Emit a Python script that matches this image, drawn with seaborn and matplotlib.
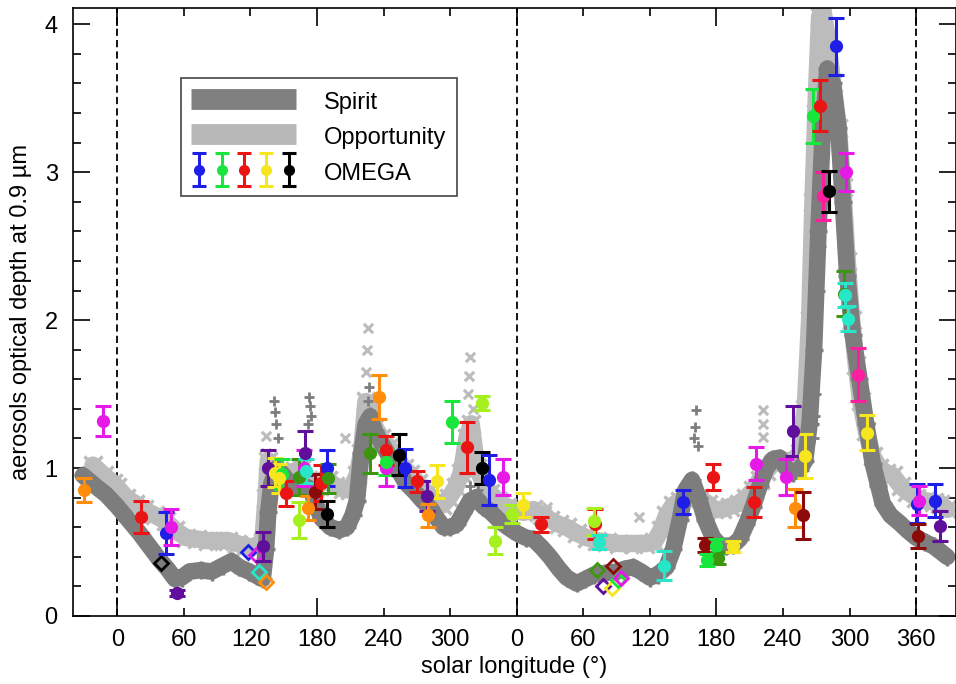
import numpy as np
import matplotlib
matplotlib.use('Agg')
import matplotlib.pyplot as plt
import seaborn as sns
from matplotlib.lines import Line2D
from matplotlib.legend_handler import HandlerTuple, HandlerErrorbar
from matplotlib.container import ErrorbarContainer
from matplotlib.ticker import MultipleLocator, FuncFormatter

# cumulative solar longitude (second Mars year shifted by +360)
spirit_ls = [-31, -20, -10, 0, 10, 20, 30, 38, 45, 52, 58, 65, 75, 85, 95, 103, 110, 119, 126, 131,
             134, 136, 139, 144, 150, 156, 162, 168, 174, 179, 184, 192, 200, 207, 212, 216, 220, 224,
             228, 232, 238, 245, 252, 260, 268, 275, 282, 288, 294, 300, 306, 312, 318, 323, 330, 337,
             345, 352, 360, 368, 375, 383, 390, 398, 405, 414, 422, 430, 440, 450, 458, 465, 472, 480,
             487, 495, 501, 507, 512, 518, 524, 530, 537, 543, 549, 555, 561, 567, 573, 579, 585, 591,
             597, 603, 609, 615, 620, 624, 628, 632, 636, 640, 645, 650, 654, 658, 663, 669, 675, 681,
             686, 690, 697, 705, 712, 720, 728, 736, 743, 748]
spirit_tau = [0.95, 0.88, 0.82, 0.74, 0.65, 0.56, 0.46, 0.38, 0.32, 0.25, 0.26, 0.30, 0.31, 0.30, 0.34,
              0.37, 0.33, 0.30, 0.27, 0.25, 0.45, 0.70, 0.90, 1.00, 0.95, 0.88, 0.87, 0.88, 0.86, 0.75,
              0.66, 0.60, 0.58, 0.60, 0.68, 0.78, 1.10, 1.30, 1.35, 1.25, 1.17, 1.08, 1.00, 0.90, 0.84,
              0.78, 0.73, 0.66, 0.60, 0.60, 0.62, 0.70, 0.78, 0.80, 0.74, 0.70, 0.64, 0.60, 0.56, 0.53,
              0.52, 0.46, 0.40, 0.32, 0.26, 0.22, 0.25, 0.28, 0.29, 0.30, 0.32, 0.33, 0.30, 0.26, 0.28,
              0.33, 0.45, 0.65, 0.85, 0.92, 0.80, 0.65, 0.53, 0.48, 0.47, 0.48, 0.52, 0.62, 0.74, 0.88,
              1.00, 1.06, 1.07, 1.00, 0.97, 0.99, 1.05, 1.30, 1.80, 2.60, 3.30, 3.70, 3.60, 3.30, 2.80,
              2.30, 1.90, 1.60, 1.30, 1.03, 0.88, 0.76, 0.68, 0.63, 0.58, 0.53, 0.50, 0.47, 0.43, 0.40]
spirit_spike_ls = [141, 142, 143, 145, 172, 173, 174, 175, 226, 227, 318, 325, 520, 521, 522, 523,
                   628, 629, 630, 631, 633, 634]
spirit_spike_tau = [1.45, 1.38, 1.30, 1.20, 1.30, 1.48, 1.42, 1.35, 1.45, 1.55, 0.88, 0.85, 1.20, 1.28,
                    1.39, 1.15, 1.20, 1.35, 1.50, 1.90, 2.20, 2.50]

opp_ls = [-22, -12, -4, 0, 8, 16, 24, 34, 44, 52, 62, 72, 82, 92, 100, 108, 116, 124, 131, 134, 136,
          140, 146, 152, 160, 166, 172, 178, 184, 190, 196, 203, 210, 216, 220, 224, 228, 232, 238, 245,
          252, 258, 264, 271, 279, 286, 293, 299, 305, 310, 315, 319, 324, 330, 336, 343, 351, 358, 366,
          375, 383, 390, 398, 405, 414, 423, 432, 441, 452, 465, 476, 484, 490, 495, 501, 507, 515, 525,
          532, 538, 545, 552, 560, 567, 573, 579, 585, 591, 597, 603, 609, 615, 620, 624, 627, 630, 633,
          636, 640, 645, 650, 654, 658, 662, 666, 670, 675, 681, 687, 693, 699, 706, 712, 720, 728, 736,
          742, 748]
opp_tau = [1.02, 0.95, 0.90, 0.87, 0.80, 0.76, 0.72, 0.68, 0.64, 0.58, 0.53, 0.52, 0.51, 0.51, 0.51,
           0.49, 0.47, 0.47, 0.50, 0.80, 1.05, 1.00, 0.98, 0.96, 0.98, 1.00, 0.92, 0.87, 0.90, 0.92, 0.88,
           0.86, 0.85, 0.95, 1.10, 1.45, 1.40, 1.28, 1.20, 1.14, 1.07, 1.00, 0.96, 0.90, 0.83, 0.78, 0.75,
           0.80, 0.87, 0.97, 1.20, 1.30, 1.00, 0.90, 0.83, 0.78, 0.74, 0.72, 0.70, 0.72, 0.68, 0.65, 0.62,
           0.60, 0.56, 0.53, 0.51, 0.50, 0.49, 0.49, 0.49, 0.50, 0.58, 0.68, 0.75, 0.78, 0.80, 0.80, 0.76,
           0.72, 0.72, 0.74, 0.76, 0.80, 0.85, 0.92, 0.98, 1.03, 1.05, 1.05, 1.05, 1.10, 1.40, 2.00, 2.80,
           3.50, 4.05, 4.10, 3.90, 3.60, 3.30, 2.90, 2.40, 2.00, 1.70, 1.45, 1.25, 1.08, 1.00, 0.97, 0.95,
           0.88, 0.84, 0.80, 0.78, 0.77, 0.76, 0.72]
opp_spike_ls = [134, 134, 205, 224, 225, 226, 316, 317, 318, 321, 387, 470, 582, 582, 582, 624, 625,
                628, 629, 631, 631]
opp_spike_tau = [1.10, 1.22, 1.20, 1.65, 1.80, 1.95, 1.50, 1.62, 1.75, 1.40, 0.74, 0.67, 1.21, 1.30,
                 1.39, 1.60, 1.75, 2.90, 3.05, 2.20, 3.84]

# OMEGA retrievals with error bars
omega_ls = [-30, -12.6, 21.4, 44, 48.5, 54, 131, 135.6, 141.7, 148, 146, 152, 164, 164, 169, 168, 170,
            171.5, 178.6, 184, 188.6, 189.5, 188.6, 228, 236, 242.5, 242, 242, 253.5, 259, 270, 279,
            280, 288, 302, 315, 329, 329, 335, 340, 348, 356, 365.6, 381.6, 431, 430, 434, 492.6,
            509.8, 537, 530, 539.6, 541, 531.5, 555, 574, 575.7, 603, 609, 620, 611, 618, 627, 633.5,
            648, 636, 641.5, 657, 655, 656, 659, 667.6, 675.6, 720.6, 722.8, 722, 737, 742]
omega_tau = [0.85, 1.32, 0.67, 0.56, 0.60, 0.155, 0.47, 1.00, 0.97, 0.96, 0.93, 0.83, 0.65, 0.94, 1.10,
             1.00, 0.98, 0.73, 0.84, 0.90, 1.00, 0.93, 0.69, 1.10, 1.48, 1.12, 1.00, 1.04, 1.09, 1.00,
             0.91, 0.81, 0.68, 0.91, 1.31, 1.14, 1.44, 1.00, 0.92, 0.51, 0.94, 0.69, 0.75, 0.62, 0.62,
             0.64, 0.50, 0.34, 0.77, 0.94, 0.48, 0.47, 0.39, 0.38, 0.47, 0.77, 1.03, 0.94, 1.25, 1.08,
             0.73, 0.68, 3.38, 3.45, 3.85, 2.84, 2.87, 3.00, 2.18, 2.17, 2.01, 1.63, 1.24, 0.76, 0.78,
             0.54, 0.78, 0.61]
omega_err = [0.08, 0.10, 0.11, 0.14, 0.12, 0.02, 0.10, 0.12, 0.10, 0.10, 0.10, 0.085, 0.12, 0.12, 0.15,
             0.12, 0.08, 0.08, 0.12, 0.12, 0.12, 0.10, 0.085, 0.13, 0.15, 0.10, 0.12, 0.09, 0.14, 0.13,
             0.07, 0.10, 0.08, 0.11, 0.14, 0.17, 0.05, 0.11, 0.17, 0.09, 0.12, 0.06, 0.08, 0.05, 0.10,
             0.09, 0.05, 0.10, 0.08, 0.09, 0.05, 0.05, 0.04, 0.04, 0.04, 0.10, 0.11, 0.12, 0.17, 0.15,
             0.13, 0.16, 0.18, 0.17, 0.19, 0.16, 0.14, 0.13, 0.15, 0.08, 0.085, 0.18, 0.12, 0.13, 0.10,
             0.08, 0.11, 0.10]
omega_group = ['orange', 'magenta', 'red', 'blue', 'magenta', 'purple', 'purple', 'purple', 'yellow',
               'green', 'yellow', 'red', 'lime', 'darkgreen', 'purple', 'magenta', 'cyan', 'orange',
               'maroon', 'red', 'blue', 'darkgreen', 'black', 'darkgreen', 'orange', 'red', 'magenta',
               'green', 'black', 'blue', 'red', 'purple', 'orange', 'yellow', 'green', 'red', 'lime',
               'black', 'blue', 'lime', 'magenta', 'lime', 'yellow', 'red', 'red', 'lime', 'cyan', 'cyan',
               'blue', 'red', 'maroon', 'green', 'darkgreen', 'green', 'yellow', 'red', 'magenta',
               'magenta', 'purple', 'yellow', 'orange', 'maroon', 'green', 'red', 'blue', 'pink', 'black',
               'magenta', 'darkgreen', 'cyan', 'cyan', 'pink', 'yellow', 'blue', 'magenta', 'maroon',
               'blue', 'purple']

# OMEGA points without error bars (open diamonds)
diamond_ls = [39, 117.6, 125, 128, 134, 432, 447, 438, 445.5, 451, 454]
diamond_tau = [0.36, 0.43, 0.41, 0.30, 0.23, 0.31, 0.34, 0.20, 0.19, 0.24, 0.26]
diamond_group = ['black', 'blue', 'magenta', 'cyan', 'orange', 'darkgreen', 'maroon', 'purple',
                 'yellow', 'green', 'magenta']

legend_groups = ['blue', 'green', 'red', 'yellow', 'black']
legend_labels = ['Spirit', 'Opportunity', 'OMEGA']

palette = {'blue': '#1e1ee6', 'green': '#19e63c', 'red': '#eb1414', 'yellow': '#f5e61e',
           'black': '#000000', 'orange': '#ff8c0a', 'magenta': '#e619e6', 'pink': '#ff1ea0',
           'purple': '#5f0f9b', 'darkgreen': '#3c960f', 'cyan': '#28e6c8', 'maroon': '#8c0a0a',
           'lime': '#a5f01e'}
spirit_col = '#7d7d7d'
opp_col = '#bcbcbc'

sns.set_theme(style='ticks')
plt.rcParams['font.family'] = ['Liberation Sans', 'DejaVu Sans']
plt.rcParams['text.color'] = 'black'
plt.rcParams['axes.labelcolor'] = 'black'

fig = plt.figure(figsize=(9.56, 6.84), dpi=100)
ax = fig.add_axes([73 / 956, 68 / 684, 883 / 956, 608 / 684])

for xv in [0, 360, 720]:
    ax.axvline(xv, color='black', lw=1.3, ls=(0, (4, 2.3)), zorder=0.5)

# rover bands
sns.lineplot(x=opp_ls, y=opp_tau, sort=False, estimator=None, color=opp_col, linewidth=12.5,
             solid_joinstyle='round', solid_capstyle='round', ax=ax, zorder=1)
sns.scatterplot(x=opp_ls, y=opp_tau, marker='x', s=170, color=opp_col, linewidth=2.5, ax=ax, zorder=1)
sns.scatterplot(x=opp_spike_ls, y=opp_spike_tau, marker='x', s=45, color=opp_col, linewidth=2.2,
                ax=ax, zorder=1)
sns.lineplot(x=spirit_ls, y=spirit_tau, sort=False, estimator=None, color=spirit_col, linewidth=12,
             solid_joinstyle='round', solid_capstyle='round', ax=ax, zorder=2)
sns.scatterplot(x=spirit_ls, y=spirit_tau, marker='+', s=170, color=spirit_col, linewidth=2.5, ax=ax,
                zorder=2)
sns.scatterplot(x=spirit_spike_ls, y=spirit_spike_tau, marker='+', s=45, color=spirit_col,
                linewidth=2, ax=ax, zorder=2)

# OMEGA
for x, y, e, g in zip(omega_ls, omega_tau, omega_err, omega_group):
    ax.errorbar([x], [y], yerr=[e], fmt='o', color=palette[g], ms=8.5, lw=2.2, capsize=5.8,
                capthick=2.2, zorder=5)
for x, y, g in zip(diamond_ls, diamond_tau, diamond_group):
    ax.plot([x], [y], marker='D', ms=7.5, mfc='none', mec=palette[g], mew=2, ls='none', zorder=4)

# legend
eb_handles = []
for g in legend_groups:
    eb = ax.errorbar([-999], [0], yerr=[0.1], fmt='o', color=palette[g], ms=7, lw=2.2, capsize=5,
                     capthick=2.2)
    eb_handles.append(eb)
h_spirit = Line2D([], [], color='#808080', lw=15, solid_capstyle='butt')
h_opp = Line2D([], [], color='#b8b8b8', lw=15, solid_capstyle='butt')
leg = ax.legend([h_spirit, h_opp, tuple(eb_handles)], legend_labels,
                handler_map={tuple: HandlerTuple(ndivide=None, pad=0.28),
                             ErrorbarContainer: HandlerErrorbar(xerr_size=0.7)},
                loc='upper left', bbox_to_anchor=(0.122, 0.885), borderaxespad=0, fontsize=17,
                handlelength=4.45, handleheight=1.2, handletextpad=1.15, labelspacing=0.45,
                borderpad=0.45, fancybox=False, framealpha=1, edgecolor='#444444')
leg.get_frame().set_linewidth(1.2)

ax.set_xlim(-40, 756)
ax.set_ylim(0, 4.11)


def ls_label(v, pos):
    v = int(round(v))
    if v == 720:
        return '360'
    return str(v % 360)


ax.xaxis.set_major_locator(MultipleLocator(180))
ax.xaxis.set_minor_locator(MultipleLocator(60))
ax.xaxis.set_major_formatter(FuncFormatter(ls_label))
ax.xaxis.set_minor_formatter(FuncFormatter(ls_label))
ax.yaxis.set_major_locator(MultipleLocator(1))
ax.yaxis.set_minor_locator(MultipleLocator(0.2))

ax.tick_params(axis='both', which='both', direction='in', top=True, right=True, bottom=True,
               left=True, colors='black', labelsize=17, width=1.2)
ax.tick_params(axis='y', which='major', length=12, pad=11)
ax.tick_params(axis='y', which='minor', length=6)
ax.tick_params(axis='x', which='major', length=13, pad=9)
ax.tick_params(axis='x', which='minor', length=6, pad=9)

for s in ax.spines.values():
    s.set_color('black')
    s.set_linewidth(1.2)

ax.set_xlabel('solar longitude (°)', fontsize=17, labelpad=4)
ax.set_ylabel('aerosols optical depth at 0.9 µm', fontsize=17, labelpad=9)

plt.savefig('out.png', dpi=100)
plt.close()
